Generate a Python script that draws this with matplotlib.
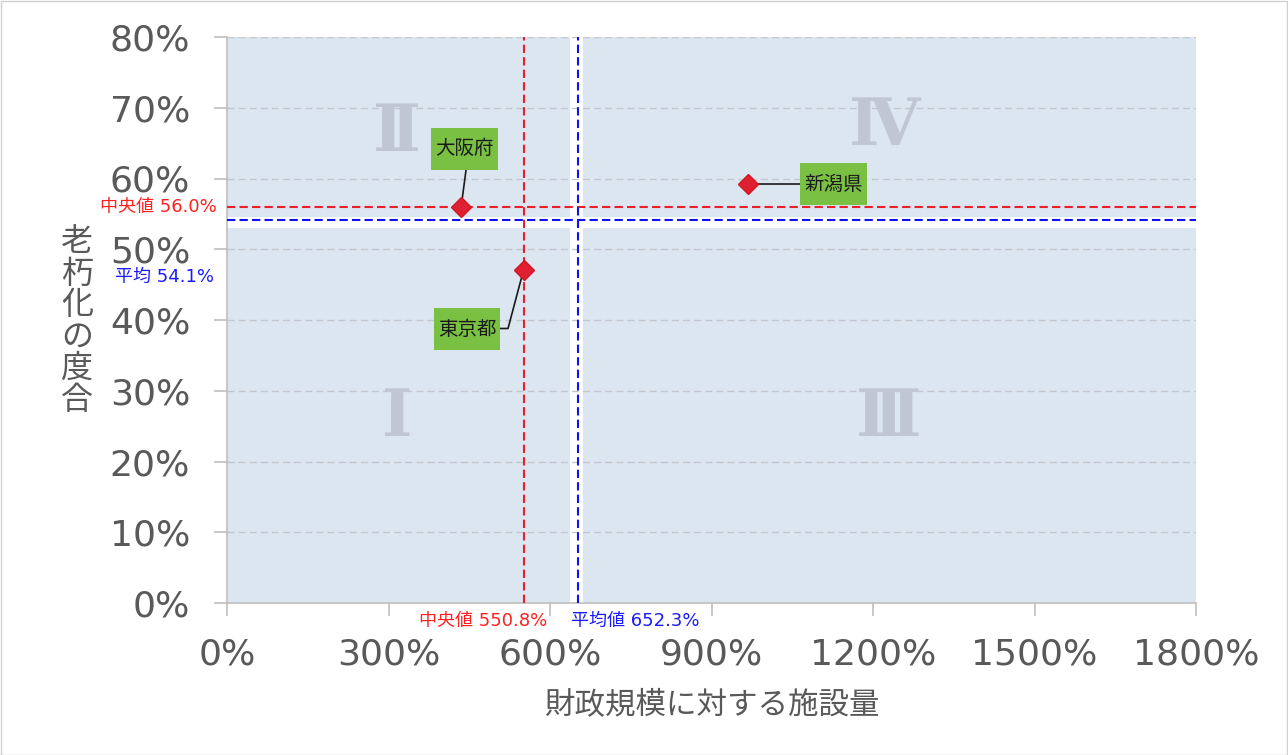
import matplotlib
matplotlib.use("Agg")
import matplotlib.pyplot as plt
from matplotlib.patches import Rectangle

plt.rcParams['font.family'] = ['DejaVu Sans', 'Noto Sans CJK JP']

# ---- data ----
prefs = ['大阪府', '東京都', '新潟県']
x_vals = [435, 551, 967]          # 財政規模に対する施設量 (%)
y_vals = [56.0, 47.1, 59.2]       # 老朽化の度合 (%)
label_x = [441, 446, 1127]
label_y = [64.2, 38.7, 59.2]
median_x = 550.8
mean_x = 652.3
median_y = 56.0
mean_y = 54.1
x_ticks = [0, 300, 600, 900, 1200, 1500, 1800]
y_ticks = [0, 10, 20, 30, 40, 50, 60, 70, 80]
quad_labels = ['Ⅰ', 'Ⅱ', 'Ⅲ', 'Ⅳ']

GRAY = '#595959'
BG = '#dce6f1'

fig = plt.figure(figsize=(12.88, 7.55), dpi=100)
ax = fig.add_axes([227/1288, 1-603/755, (1196-227)/1288, (603-37)/755])
ax.set_xlim(0, 1800)
ax.set_ylim(0, 80)

# quadrant backgrounds with white gap around the mean cross
gx0, gx1 = mean_x - 15, mean_x + 9
gy0, gy1 = mean_y - 1.1, mean_y + 0.45
for (x0, x1) in [(0, gx0), (gx1, 1800)]:
    for (y0, y1) in [(0, gy0), (gy1, 80)]:
        ax.add_patch(Rectangle((x0, y0), x1 - x0, y1 - y0, fc=BG, ec='none', zorder=0))

# grid
for yt in y_ticks[1:]:
    ax.axhline(yt, color='#c3c7cc', lw=1, ls=(0, (5, 3)), zorder=1)

# quadrant roman numerals
qpos = [(316, 26.1), (316, 66.4), (1230, 26.1), (1222, 67.3)]
for lab, (qx, qy) in zip(quad_labels, qpos):
    ax.text(qx, qy, lab, fontsize=47, family=['DejaVu Serif', 'Noto Sans CJK JP'], fontweight='bold',
            color='#c0c7d2', ha='center', va='center', zorder=1)

# median / mean lines
ax.axhline(median_y, color='#e8202a', lw=1.5, ls=(0, (4, 2)), zorder=3)
ax.axvline(median_x, color='#e8202a', lw=1.5, ls=(0, (4, 2)), zorder=3)
ax.axhline(mean_y, color='#1010f0', lw=1.5, ls=(0, (4, 2)), zorder=3)
ax.axvline(mean_x, color='#1010f0', lw=1.5, ls=(0, (4, 2)), zorder=3)

# leader lines
ax.plot([label_x[0] + 3, x_vals[0]], [label_y[0] - 3, y_vals[0]], color='#1a1a1a', lw=1.2, zorder=4)
ax.plot([label_x[1] + 62, label_x[1] + 76, x_vals[1]], [label_y[1] + 0.1, label_y[1] + 0.1, y_vals[1]],
        color='#1a1a1a', lw=1.2, zorder=4)
ax.plot([x_vals[2], label_x[2]], [y_vals[2], label_y[2]], color='#1a1a1a', lw=1.2, zorder=4)

# points
ax.plot(x_vals, y_vals, ls='none', marker='D', ms=10, color='#e02030', mec='#d01822', zorder=5)

# labels (green boxes)
bw, bh = 124, 5.9
for name, lx, ly in zip(prefs, label_x, label_y):
    ax.add_patch(Rectangle((lx - bw / 2, ly - bh / 2), bw, bh, fc='#7ac143', ec='none', zorder=6))
    ax.text(lx, ly, name, fontsize=14, family=['Noto Sans CJK JP'], color='#1a1a1a',
            ha='center', va='center', zorder=7)

# axes styling
for s in ['top', 'right']:
    ax.spines[s].set_visible(False)
for s in ['left', 'bottom']:
    ax.spines[s].set_color('#bfbfbf')
    ax.spines[s].set_linewidth(1.2)
ax.set_xticks(x_ticks)
ax.set_xticklabels([f'{v}%' for v in x_ticks])
ax.set_yticks(y_ticks)
ax.set_yticklabels([f'{v}%' for v in y_ticks])
ax.tick_params(axis='both', colors='#bfbfbf', labelcolor=GRAY, labelsize=26, length=9.5, width=1.2)
ax.tick_params(axis='x', pad=15)
ax.tick_params(axis='y', pad=17)

ax.set_xlabel('財政規模に対する施設量', fontsize=22, color=GRAY, family=['Noto Sans CJK JP'], labelpad=14)
ax.set_ylabel('老\n朽\n化\nの\n度\n合', fontsize=23, color=GRAY, family=['Noto Sans CJK JP'],
              rotation=0, va='center', ha='center', labelpad=0, linespacing=0.98)
ax.yaxis.set_label_coords(-0.155, 0.498)

# value annotations
ax.text(-0.011, median_y, f'中央値 {median_y:.1f}%', transform=ax.get_yaxis_transform(),
        color='#ff2020', fontsize=13, ha='right', va='center')
ax.text(-0.013, mean_y - 8.0, f'平均 {mean_y:.1f}%', transform=ax.get_yaxis_transform(),
        color='#1a1aff', fontsize=13, ha='right', va='center')
ax.text(median_x + 45, -2.5, f'中央値 {median_x:.1f}%', color='#ff2020', fontsize=13,
        ha='right', va='center')
ax.text(mean_x - 13, -2.5, f'平均値 {mean_x:.1f}%', color='#1a1aff', fontsize=13,
        ha='left', va='center')

# figure border
fig.patches.append(Rectangle((0.5/1288, 0.5/755), 1 - 1.5/1288, 1 - 1.5/755, transform=fig.transFigure,
                             fill=False, ec='#d0d0d0', lw=1))

fig.savefig('out.png', dpi=100)
